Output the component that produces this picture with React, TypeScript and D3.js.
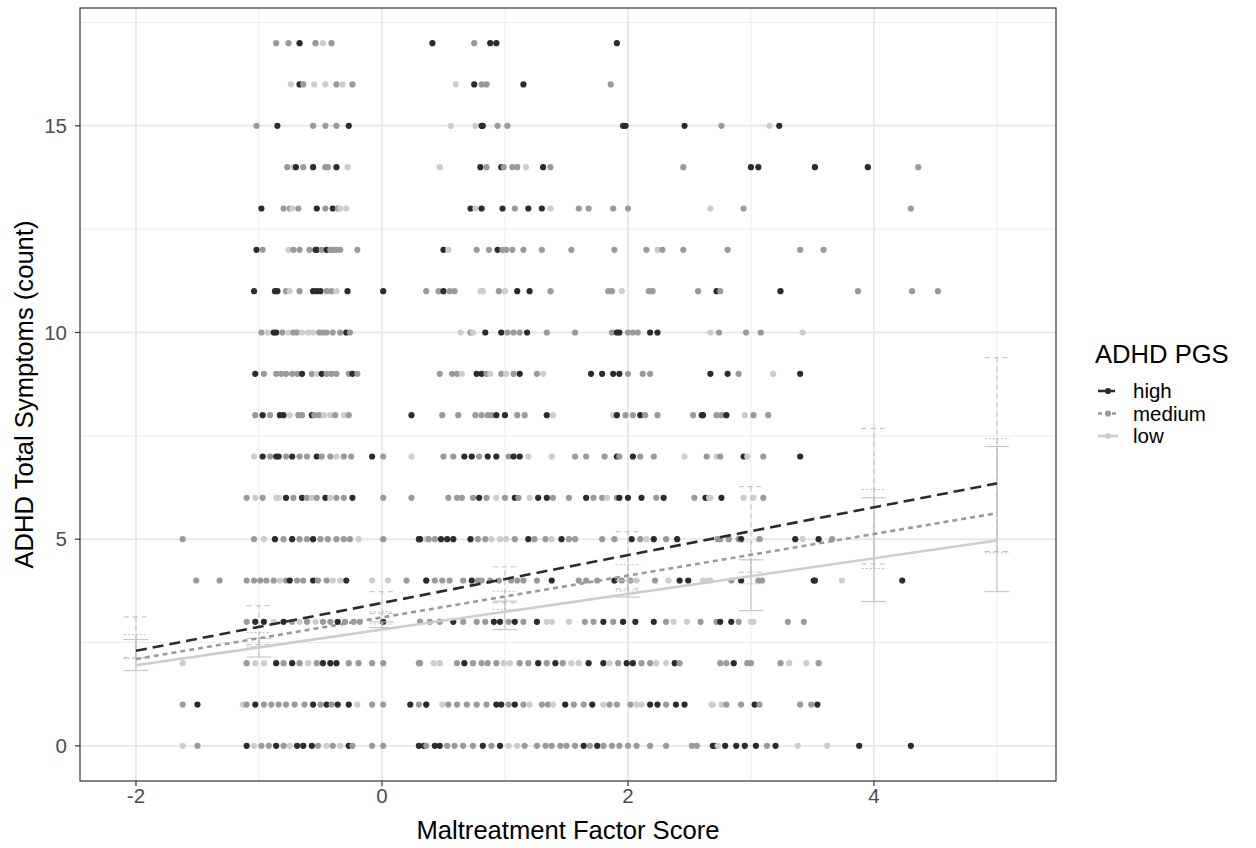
import React from 'react';
import * as d3 from 'd3';

// ---------- DATA ----------
const groups = ['high', 'medium', 'low'];
const groupColors = ['#2b2b2b', '#9a9a9a', '#cdcdcd'];
const xTicks = [-2, 0, 2, 4];
const yTicks = [0, 5, 10, 15];
const xMinor = [-1, 1, 3, 5];
const yMinor = [2.5, 7.5, 12.5, 17.5];

// fitted lines (x = -2 and x = 5)
const lineX = [-2, 5];
const highLine = [2.3, 6.35];
const mediumLine = [2.1, 5.63];
const lowLine = [1.95, 4.97];

// error bars at integer x
const errX = [-2, -1, 0, 1, 2, 3, 4, 5];
const highLo = [2.13, 2.45, 3.2, 3.46, 3.8, 4.2, 4.4, 4.7];
const highHi = [3.12, 3.39, 3.73, 4.33, 5.18, 6.27, 7.68, 9.39];
const mediumLo = [2.11, 2.4, 2.95, 3.3, 3.75, 3.92, 4.29, 4.67];
const mediumHi = [2.69, 2.74, 3.24, 3.74, 4.38, 4.95, 6.2, 7.43];
const lowLo = [1.82, 2.15, 2.86, 2.81, 3.6, 3.27, 3.49, 3.73];
const lowHi = [2.57, 2.6, 3.0, 3.5, 4.0, 4.5, 6.0, 7.24];

// jittered observations: index = symptom count (0..17), values = maltreatment score
const highPts = [
  '-1.10 -0.86 -0.69 -0.64 -0.57 -0.27 0.30 0.34 0.43 0.47 0.82 0.96 1.64 1.75 2.69 2.71 2.79 2.88 2.95 3.04 3.20 3.88 4.30',
  '-1.50 -1.03 -0.56 -0.45 -0.36 -0.27 0.23 0.36 0.93 0.97 1.08 1.49 1.71 2.18 2.24 2.39 2.46 3.03 3.54',
  '-0.86 -0.73 -0.48 -0.42 -0.37 0.67 1.27 1.41 1.68 1.80 1.99 2.04 2.38 2.86',
  '-1.03 -0.96 -0.80 -0.36 0.01 0.58 0.91 0.96 1.08 1.26 1.80 1.96 2.06 2.21 2.75 2.84',
  '-0.75 -0.56 -0.29 0.36 0.73 1.38 1.89 2.42 2.49 2.92 3.51 3.52 4.23',
  '-0.87 -0.73 -0.56 0.30 0.31 0.48 0.53 0.58 0.72 1.19 1.46 2.03 2.21 2.40 2.92 3.36 3.55',
  '-0.78 -0.65 -0.46 -0.24 0.79 1.08 1.27 1.34 1.66 1.93 2.00 2.11 2.29 2.63 2.76',
  '-0.97 -0.86 -0.84 -0.73 -0.53 -0.08 0.67 0.73 0.86 0.93 1.07 1.12 1.91 2.04 2.94 3.40',
  '-0.97 -0.83 -0.80 -0.57 0.24 0.93 1.00 1.34 1.91 2.10 2.60 2.61 2.80',
  '-1.03 -0.65 -0.49 -0.24 0.77 0.81 1.12 1.70 1.79 1.88 1.93 2.67 2.81 3.40',
  '-0.88 -0.86 -0.29 0.84 0.97 1.18 1.91 1.93 2.18 2.24',
  '-1.04 -0.87 -0.85 -0.56 -0.53 -0.50 -0.28 0.01 0.50 1.10 1.20 2.72 3.24',
  '-1.02 -0.54 -0.53 -0.45 0.50 0.94',
  '-0.98 -0.53 -0.40 0.72 0.81 0.98 1.19 1.30',
  '-0.70 -0.56 -0.37 0.80 0.97 1.31 3.00 3.06 3.52 3.95',
  '-0.85 -0.27 0.81 0.82 1.96 1.98 2.46 3.23',
  '-0.67 0.75 1.15',
  '-0.67 0.41 0.88 0.93 1.91',
];
const mediumPts = [
  '-1.50 -0.98 -0.92 -0.80 -0.52 -0.40 -0.24 -0.08 0.01 0.36 0.53 0.59 0.66 0.74 0.89 1.16 1.26 1.33 1.38 1.45 1.50 1.57 1.69 1.80 1.87 1.93 2.00 2.07 2.18 2.31 2.52 2.56 3.13',
  '-1.62 -1.10 -0.96 -0.90 -0.84 -0.78 -0.71 -0.63 -0.50 -0.41 -0.08 0.01 0.30 0.36 0.54 0.61 0.69 0.77 0.85 1.03 1.15 1.30 1.35 1.56 1.64 1.85 1.91 2.02 2.31 2.80 2.92 3.07 3.40 3.49',
  '-1.10 -0.80 -0.67 -0.53 -0.27 -0.19 -0.08 0.01 0.30 0.31 0.61 0.74 0.81 0.86 0.93 1.12 1.19 1.34 1.47 1.92 2.11 2.18 2.42 2.75 2.80 2.97 3.00 3.24 3.55',
  '-1.10 -0.73 -0.61 -0.48 -0.42 -0.30 -0.23 -0.18 0.31 0.39 0.47 0.66 0.77 0.84 1.03 1.15 1.65 1.72 1.88 2.31 2.59 2.72 2.90 3.30 3.43',
  '-1.51 -1.32 -1.10 -1.04 -0.99 -0.94 -0.88 -0.78 -0.69 -0.64 -0.52 -0.45 0.20 0.36 0.43 0.49 0.55 0.66 0.78 0.81 0.88 0.95 1.05 1.10 1.15 1.26 1.60 1.66 1.75 1.95 2.02 2.22 2.84 3.06 3.09',
  '-1.62 -1.04 -0.80 -0.67 -0.61 -0.50 -0.44 -0.37 -0.31 -0.26 0.01 0.38 0.43 0.78 0.84 1.08 1.24 1.33 1.52 1.57 1.79 1.89 2.10 2.31 2.73 2.75 2.82 2.90 3.07 3.66',
  '-1.10 -0.97 -0.72 -0.61 -0.53 -0.37 -0.31 0.01 0.24 0.54 0.61 0.65 0.74 0.85 1.00 1.11 1.39 1.52 1.72 1.79 1.91 2.23 2.54 3.10',
  '-0.91 -0.78 -0.67 -0.61 -0.49 -0.42 -0.31 -0.25 0.01 0.50 0.58 0.79 1.03 1.57 1.66 1.81 1.93 2.10 2.21 2.64 2.75 3.10',
  '-1.03 -0.91 -0.68 -0.65 -0.55 -0.51 -0.38 -0.27 0.49 0.62 0.76 0.81 0.86 0.89 1.10 1.16 1.98 2.04 2.14 2.24 2.53 2.72 2.76 3.02 3.14',
  '-0.96 -0.86 -0.82 -0.78 -0.73 -0.69 -0.57 -0.45 -0.41 -0.37 -0.27 -0.20 0.47 0.57 0.61 0.85 0.97 1.07 1.26 2.00 2.12 2.18 2.90',
  '-0.98 -0.81 -0.72 -0.69 -0.51 -0.48 -0.45 -0.40 -0.34 -0.26 0.72 1.02 1.07 1.12 1.34 1.57 1.87 2.00 2.04 2.08 2.74 2.96 3.08',
  '-0.78 -0.67 -0.45 -0.41 0.36 0.46 0.55 0.59 0.95 1.37 1.84 1.87 2.17 2.20 2.57 2.75 3.87 4.31 4.52',
  '-0.97 -0.72 -0.67 -0.59 -0.49 -0.42 -0.40 -0.37 -0.34 -0.20 0.77 0.87 0.98 1.01 1.06 1.15 1.30 1.54 1.89 2.15 2.28 2.45 2.81 3.40 3.59',
  '-0.80 -0.75 -0.68 -0.46 -0.36 1.08 1.60 1.68 1.88 2.00 2.94 4.30',
  '-0.77 -0.64 -0.46 -0.44 0.85 0.99 1.06 1.10 1.37 2.45 4.36',
  '-1.02 -0.56 -0.46 -0.37 0.94 1.02 2.76',
  '-0.64 -0.37 -0.24 0.81 0.85 1.86',
  '-0.86 -0.76 -0.54 -0.41 0.75',
];
const lowPts = [
  '-1.62 -1.04 -0.75 -0.45 -0.34 1.03 1.10 1.80 2.73 3.38 3.62',
  '-1.13 -0.20 0.49 1.20 1.39 1.80 2.07 2.11 2.68 2.69 2.76',
  '-1.62 -1.03 -0.96 -0.60 0.42 0.47 0.99 1.04 1.54 1.60 1.85 2.23 2.31 3.31 3.45',
  '-0.88 -0.67 -0.54 0.31 1.34 1.38 1.52 2.37 2.48 3.00 3.02',
  '-0.83 -0.40 -0.34 -0.08 0.05 2.07 2.33 2.61 2.65 2.67 3.74',
  '-0.96 -0.19 0.36 0.89 0.96 1.01 1.38 2.15 3.42',
  '-1.03 -0.86 -0.84 -0.57 -0.42 0.93 1.20 1.83 2.66 2.67 2.94 3.02',
  '-1.04 -0.37 0.24 1.19 1.38 2.46 2.72 2.97',
  '-0.75 -0.47 -0.42 -0.31 1.39 1.88 2.95',
  '-0.53 0.65 0.88 1.01 1.31 3.18',
  '-0.93 -0.76 -0.65 -0.60 -0.56 0.64 0.74 2.67 3.42',
  '-0.75 -0.37 0.80 0.82 1.00 1.95',
  '-0.76 0.54 2.24',
  '-0.73 -0.34 -0.29 0.76 1.37 2.67',
  '-0.72 -0.28 0.47 1.17',
  '0.56 0.76 3.15',
  '-0.74 -0.55 -0.46 -0.32 0.60',
  '-0.54 -0.48',
];

// ---------- LAYOUT ----------
const W = 1256;
const H = 848;
const PL = 80;
const PR = 1056;
const PT = 8;
const PB = 781;
const FONT = "'Liberation Sans', Arial, Helvetica, sans-serif";
const TICK_FS = 20.5;
const TITLE_FS = 25.6;

const lineDash = ['11 6', '5 4', null];
const errDash = ['5 4', '2 2', null];

export default function App() {
  const x = d3.scaleLinear().domain([-2.455, 5.48]).range([PL, PR]);
  const y = d3.scaleLinear().domain([-0.85, 17.85]).range([PB, PT]);

  const ptSets = [highPts, mediumPts, lowPts];
  const pts: { x: number; y: number; g: number }[] = [];
  ptSets.forEach((rows, g) => {
    rows.forEach((row, count) => {
      row
        .trim()
        .split(/\s+/)
        .map(Number)
        .forEach((v) => pts.push({ x: v, y: count, g }));
    });
  });
  pts.sort((a, b) => (a.y - b.y) || (a.x - b.x) || (b.g - a.g));

  const lines = [highLine, mediumLine, lowLine];
  const lows = [highLo, mediumLo, lowLo];
  const highs = [highHi, mediumHi, lowHi];
  const lineGen = d3
    .line<number>()
    .x((_, i) => x(lineX[i]))
    .y((d) => y(d));

  const capHalf = 0.1;

  return (
    <svg
      width={W}
      height={H}
      style={{ position: 'fixed', left: 0, top: 0, background: '#fff' }}
      fontFamily={FONT}
    >
      <rect x={0} y={0} width={W} height={H} fill="#ffffff" />
      {/* minor grid */}
      {xMinor.map((v) => (
        <line key={'xm' + v} x1={x(v)} x2={x(v)} y1={PT} y2={PB} stroke="#ebebeb" strokeWidth={1} />
      ))}
      {yMinor.map((v) => (
        <line key={'ym' + v} x1={PL} x2={PR} y1={y(v)} y2={y(v)} stroke="#ebebeb" strokeWidth={1} />
      ))}
      {/* major grid */}
      {xTicks.map((v) => (
        <line key={'xg' + v} x1={x(v)} x2={x(v)} y1={PT} y2={PB} stroke="#e8e8e8" strokeWidth={1.9} />
      ))}
      {yTicks.map((v) => (
        <line key={'yg' + v} x1={PL} x2={PR} y1={y(v)} y2={y(v)} stroke="#e8e8e8" strokeWidth={1.9} />
      ))}

      {/* points */}
      {pts.map((p, i) => (
        <circle key={'p' + i} cx={x(p.x)} cy={y(p.y)} r={3.1} fill={groupColors[p.g]} />
      ))}

      {/* error bars */}
      {groups.map((g, gi) =>
        errX.map((xv, i) => (
          <g key={'e' + g + i} stroke="#bdbdbd" strokeWidth={1} strokeDasharray={errDash[gi] || undefined} fill="none">
            <line x1={x(xv)} x2={x(xv)} y1={y(lows[gi][i])} y2={y(highs[gi][i])} />
            <line x1={x(xv - capHalf)} x2={x(xv + capHalf)} y1={y(lows[gi][i])} y2={y(lows[gi][i])} />
            <line x1={x(xv - capHalf)} x2={x(xv + capHalf)} y1={y(highs[gi][i])} y2={y(highs[gi][i])} />
          </g>
        ))
      )}

      {/* fitted lines */}
      {[2, 1, 0].map((gi) => (
        <path
          key={'l' + gi}
          d={lineGen(lines[gi]) || ''}
          fill="none"
          stroke={groupColors[gi]}
          strokeWidth={2.6}
          strokeDasharray={lineDash[gi] || undefined}
        />
      ))}

      {/* panel border */}
      <rect x={PL} y={PT} width={PR - PL} height={PB - PT} fill="none" stroke="#333333" strokeWidth={1.2} />

      {/* x axis */}
      {xTicks.map((v) => (
        <g key={'xt' + v}>
          <line x1={x(v)} x2={x(v)} y1={PB} y2={PB + 5} stroke="#333333" strokeWidth={1.2} />
          <text x={x(v)} y={PB + 22} textAnchor="middle" fontSize={TICK_FS} fill="#4d4d4d">
            {v < 0 ? '-' + Math.abs(v) : String(v)}
          </text>
        </g>
      ))}
      {/* y axis */}
      {yTicks.map((v) => (
        <g key={'yt' + v}>
          <line x1={PL - 5} x2={PL} y1={y(v)} y2={y(v)} stroke="#333333" strokeWidth={1.2} />
          <text x={PL - 13} y={y(v) + 7.3} textAnchor="end" fontSize={TICK_FS} fill="#4d4d4d">
            {String(v)}
          </text>
        </g>
      ))}

      {/* axis titles */}
      <text x={(PL + PR) / 2} y={839} textAnchor="middle" fontSize={TITLE_FS} fill="#000">
        Maltreatment Factor Score
      </text>
      <text
        transform={`translate(33, ${(PT + PB) / 2}) rotate(-90)`}
        textAnchor="middle"
        fontSize={TITLE_FS}
        fill="#000"
      >
        ADHD Total Symptoms (count)
      </text>

      {/* legend */}
      <text x={1095} y={363} fontSize={TITLE_FS} fill="#000">
        ADHD PGS
      </text>
      {groups.map((g, gi) => {
        const base = 398 + gi * 22.5;
        const cy = base - 7;
        return (
          <g key={'lg' + g}>
            <line
              x1={1098}
              x2={1118}
              y1={cy}
              y2={cy}
              stroke={groupColors[gi]}
              strokeWidth={2.6}
              strokeDasharray={lineDash[gi] ? (gi === 0 ? '7 3' : '4 3') : undefined}
            />
            <circle cx={1108} cy={cy} r={3.1} fill={groupColors[gi]} />
            <text x={1133} y={base} fontSize={TICK_FS} fill="#000">
              {g}
            </text>
          </g>
        );
      })}
    </svg>
  );
}
